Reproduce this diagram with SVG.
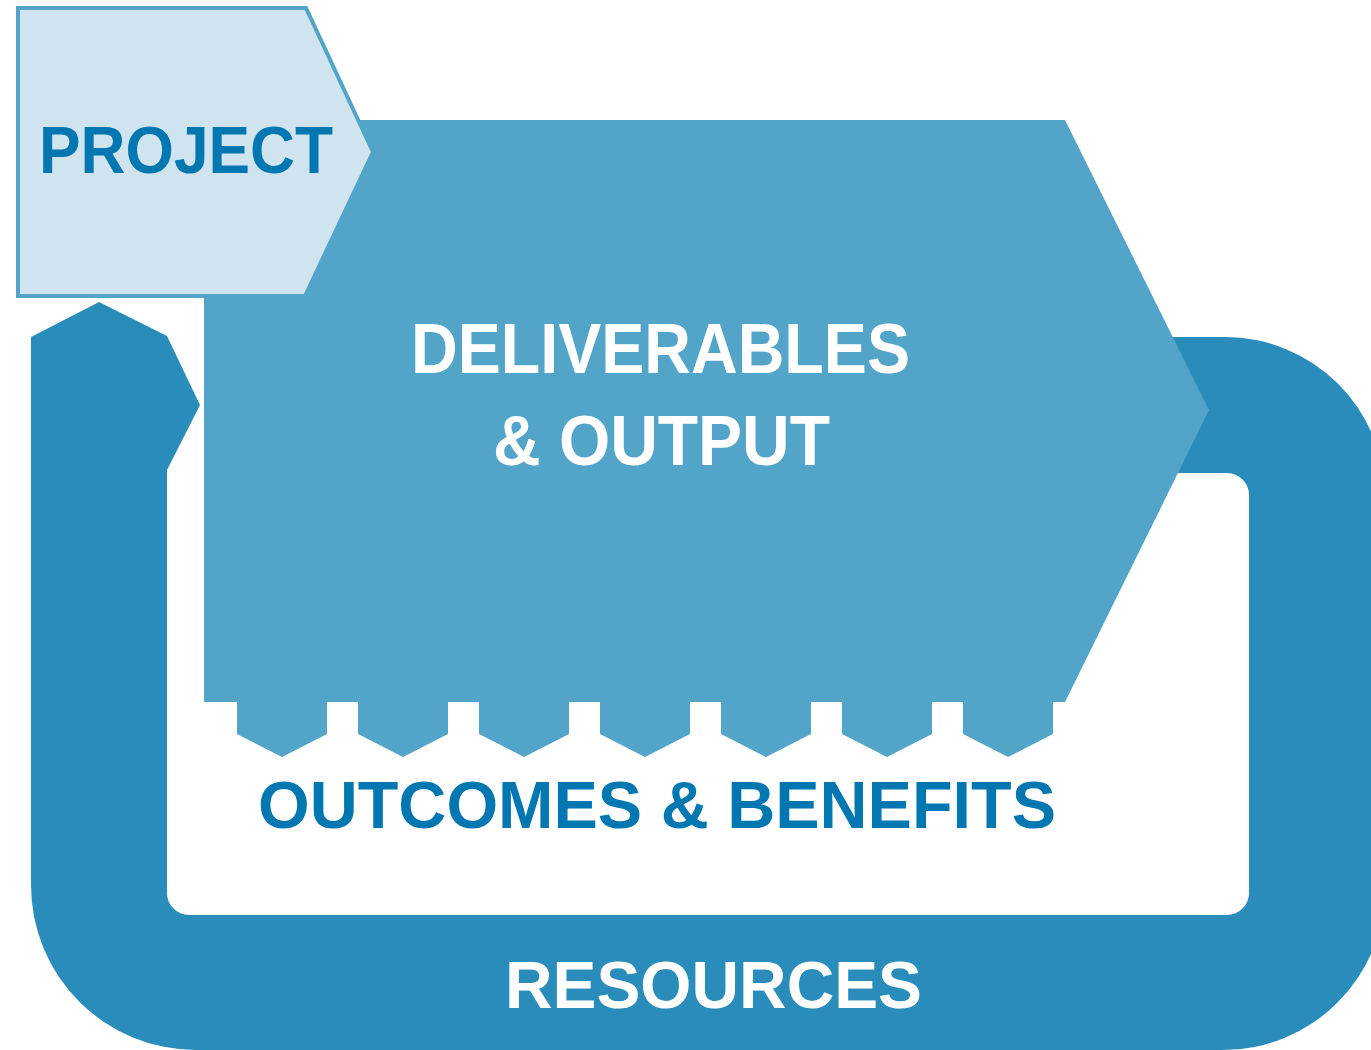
<svg xmlns="http://www.w3.org/2000/svg" width="1371" height="1050" viewBox="0 0 1371 1050">
  <style>
    .lbl { font-family: "Liberation Sans", Arial, sans-serif; font-weight: bold; text-anchor: start; }
    .white { fill: #ffffff; }
    .blue { fill: #0077b0; }
  </style>
  <rect x="0" y="0" width="1371" height="1050" fill="#ffffff"/>
  <g id="connectors">
    <path id="resources-loop" fill="#2a8cbb" d="M31 337 L99 302 L167 336 L200 405 L167 470 L167 893 A22 22 0 0 0 189 915 L1227 915 A22 22 0 0 0 1249 893 L1249 495 A22 22 0 0 0 1227 473 L1150 473 L1150 337 L1225 337 A160 160 0 0 1 1385 497 L1385 888 A162 162 0 0 1 1223 1050 L196 1050 A165 165 0 0 1 31 885 Z"/>
  </g>
  <g id="resources">
    <text class="lbl white" x="505" y="1008" font-size="66" textLength="417" lengthAdjust="spacingAndGlyphs">RESOURCES</text>
  </g>
  <g id="deliverables">
    <path fill="#52a4c9" d="M204 120 L1065 120 L1209 410 L1065 702 L1053 702 L1053 734 L1008 757 L963 734 L963 702 L932 702 L932 734 L887 757 L842 734 L842 702 L811 702 L811 734 L766 757 L721 734 L721 702 L690 702 L690 734 L645 757 L600 734 L600 702 L569 702 L569 734 L524 757 L479 734 L479 702 L448 702 L448 734 L403 757 L358 734 L358 702 L327 702 L327 734 L282 757 L237 734 L237 702 L204 702 Z"/>
    <text class="lbl white" x="411" y="373" font-size="71" textLength="499" lengthAdjust="spacingAndGlyphs">DELIVERABLES</text>
    <text class="lbl white" x="493" y="465" font-size="70" textLength="337" lengthAdjust="spacingAndGlyphs">&amp; OUTPUT</text>
  </g>
  <g id="outcomes">
    <text class="lbl blue" x="258" y="828" font-size="67" textLength="798" lengthAdjust="spacingAndGlyphs">OUTCOMES &amp; BENEFITS</text>
  </g>
  <g id="project">
    <path fill="#cfe4ef" stroke="#52a4c9" stroke-width="4" d="M18 8 L306 8 L373 152 L305 296 L18 296 Z"/>
    <text class="lbl blue" x="39" y="173" font-size="67" textLength="294" lengthAdjust="spacingAndGlyphs">PROJECT</text>
  </g>
</svg>
